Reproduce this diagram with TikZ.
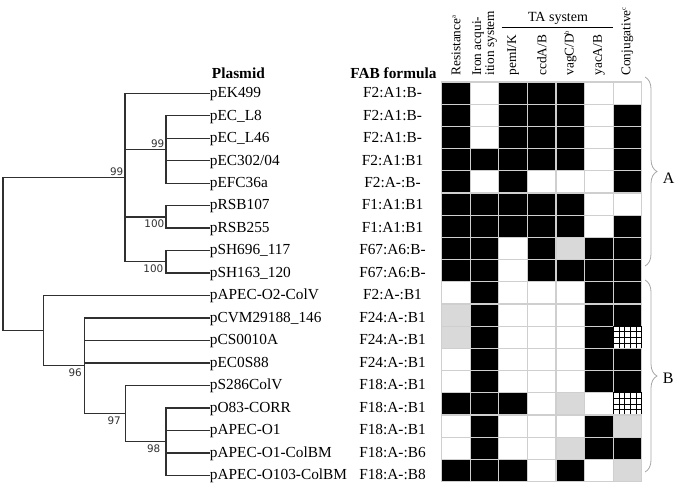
\documentclass[tikz,border=0pt]{standalone}
\usepackage{fontspec}
\setmainfont{Liberation Serif}
\newfontfamily\bootfont{DejaVu Sans}
\usetikzlibrary{calc,decorations.pathreplacing}

\definecolor{treeline}{HTML}{303030}
\definecolor{cellgray}{HTML}{D9D9D9}
\definecolor{gridline}{HTML}{CFCFCF}

\begin{document}
\begin{tikzpicture}[x=0.75pt,y=-0.75pt,
  branch/.style={draw=treeline, line width=1pt, line cap=rect},
  leaf/.style={anchor=west, inner sep=0.5pt, font=\fontsize{11.5}{12}\selectfont, text height=1.6ex, text depth=0.2ex},
  fab/.style={inner sep=0.5pt, font=\fontsize{11.5}{12}\selectfont, text height=1.6ex, text depth=0.2ex},
  boot/.style={inner sep=0pt, text=treeline, font=\bootfont\fontsize{7.8}{8}\selectfont},
  colhead/.style={rotate=90, anchor=west, inner sep=0.5pt, align=left, font=\fontsize{10}{8.6}\selectfont},
  cell0/.style={fill=white, draw=gridline, line width=0.9pt},
  cell1/.style={fill=black, draw=gridline, line width=0.9pt},
  cell2/.style={fill=cellgray, draw=gridline, line width=0.9pt},
  cell3/.style={fill=white, draw=black, line width=0.7pt, path picture={
    \foreach \k in {1,...,4}
      \draw[black, line width=0.5pt] ($(path picture bounding box.north west)!\k/5!(path picture bounding box.north east)$) -- ($(path picture bounding box.south west)!\k/5!(path picture bounding box.south east)$);
    \foreach \k in {1,2,3}
      \draw[black, line width=0.5pt] ($(path picture bounding box.north west)!\k/4!(path picture bounding box.south west)$) -- ($(path picture bounding box.north east)!\k/4!(path picture bounding box.south east)$);
  }},
  clade/.style={draw=gray!70, line width=0.6pt, decorate, decoration={brace, amplitude=9pt}}]

\useasboundingbox (0,0) rectangle (680,487);

% column heads
\node[font=\bfseries\fontsize{11.5}{12}\selectfont, anchor=base west, inner sep=0pt] (hplasmid) at (211.7,78) {Plasmid};
\node[font=\bfseries\fontsize{11.5}{12}\selectfont, anchor=base, inner sep=0pt] (hfab) at (393.4,78) {FAB formula};
\node[font=\fontsize{10.5}{12}\selectfont, anchor=base, inner sep=0pt] (hta) at (558,21) {TA system};
\coordinate (ta1) at (501.7,27.3);
\coordinate (ta2) at (613.3,27.3);
\draw[line width=0.8pt] (ta1) -- (ta2);

\node[colhead] (hres) at (456,76.5) {Resistance\textsuperscript{\tiny a}};
\node[colhead] (hiron) at (484.6,76.5) {Iron acqui-\\ition system};
\node[colhead] (hpem) at (513.1,76.5) {pemI/K};
\node[colhead] (hccd) at (541.7,76.5) {ccdA/B};
\node[colhead] (hvag) at (570.3,76.5) {vagC/D\textsuperscript{\tiny b}};
\node[colhead] (hyac) at (598.8,76.5) {yacA/B};
\node[colhead] (hconj) at (627.4,76.5) {Conjugative\textsuperscript{\tiny c}};

% plasmids and FAB formulae
\foreach \name/\fabtext [count=\i] in {pEK499/F2:A1:B-, pEC\_L8/F2:A1:B-, pEC\_L46/F2:A1:B-, {pEC302/04}/F2:A1:B1, pEFC36a/F2:A-:B-, pRSB107/F1:A1:B1, pRSB255/F1:A1:B1, pSH696\_117/F67:A6:B-, pSH163\_120/F67:A6:B-, pAPEC-O2-ColV/F2:A-:B1, pCVM29188\_146/F24:A-:B1, pCS0010A/F24:A-:B1, pEC0S88/F24:A-:B1, pS286ColV/F18:A-:B1, pO83-CORR/F18:A-:B1, pAPEC-O1/F18:A-:B1, pAPEC-O1-ColBM/F18:A-:B6, pAPEC-O103-ColBM/F18:A-:B8}
{
  \node[leaf] (l\i) at (209,{93.3+(\i-1)*22.47}) {\name};
  \node[fab] (f\i) at (392.5,{93.3+(\i-1)*22.47}) {\fabtext};
}

% tree
\coordinate (root) at (3,254.1);
\coordinate (nA) at (125,177.6);
\coordinate (nB) at (43.7,330.6);
\coordinate (n99) at (166,149.5);
\coordinate (nRSB) at (166,216.9);
\coordinate (nSH) at (166,261.8);
\coordinate (n96) at (84.3,365.8);
\coordinate (n97) at (125.3,413.5);
\coordinate (n98) at (166,441.6);

\draw[branch] (root) |- (nA);
\draw[branch] (root) |- (nB);
\draw[branch] (nA) |- (l1.west);
\draw[branch] (nA) |- (n99);
\draw[branch] (nA) |- (nRSB);
\draw[branch] (nA) |- (nSH);
\foreach \i in {2,...,5} \draw[branch] (n99) |- (l\i.west);
\foreach \i in {6,7} \draw[branch] (nRSB) |- (l\i.west);
\foreach \i in {8,9} \draw[branch] (nSH) |- (l\i.west);
\draw[branch] (nB) |- (l10.west);
\draw[branch] (nB) |- (n96);
\foreach \i in {11,12,13} \draw[branch] (n96) |- (l\i.west);
\draw[branch] (n96) |- (n97);
\draw[branch] (n97) |- (l14.west);
\draw[branch] (n97) |- (n98);
\foreach \i in {15,...,18} \draw[branch] (n98) |- (l\i.west);

% bootstrap values
\node[boot, anchor=south east] (bA) at (123.5,175.5) {99};
\node[boot, anchor=south east] (b99) at (164.5,147.5) {99};
\node[boot, anchor=north east] (bRSB) at (164.5,219.5) {100};
\node[boot, anchor=north east] (bSH) at (163.5,264.5) {100};
\node[boot, anchor=north east] (b96) at (82,368) {96};
\node[boot, anchor=north east] (b97) at (121,416) {97};
\node[boot, anchor=north east] (b98) at (160.5,444.5) {98};

% feature grid: 0 absent, 1 present, 2 partial, 3 hatched
\foreach \rowvals [count=\r] in {{1,0,1,1,1,0,0},{1,0,1,1,1,0,1},{1,0,1,1,1,0,1},{1,1,1,1,1,0,1},{1,0,1,0,0,0,1},{1,1,1,1,1,0,0},{1,1,1,1,1,0,1},{1,1,0,1,2,1,1},{1,1,0,1,1,1,1},{0,1,0,0,0,1,1},{2,1,0,0,0,1,1},{2,1,0,0,0,1,3},{0,1,0,0,0,1,1},{0,1,0,0,0,1,1},{1,1,1,0,2,0,3},{0,1,0,0,0,1,2},{0,1,0,0,2,1,1},{1,1,1,0,1,0,2}}
  \foreach \v [count=\c] in \rowvals
    \path[cell\v] ({441.7+(\c-1)*28.57},{82+(\r-1)*22.2}) rectangle +(28.57,22.2);

% groups
\draw[clade] (645,77) -- (645,266);
\node[font=\fontsize{12}{12}\selectfont, anchor=west, inner sep=0pt] (gA) at (662.5,178) {A};
\draw[clade] (645,280) -- (645,472);
\node[font=\fontsize{12}{12}\selectfont, anchor=west, inner sep=0pt] (gB) at (662.5,378) {B};

\end{tikzpicture}
\end{document}
